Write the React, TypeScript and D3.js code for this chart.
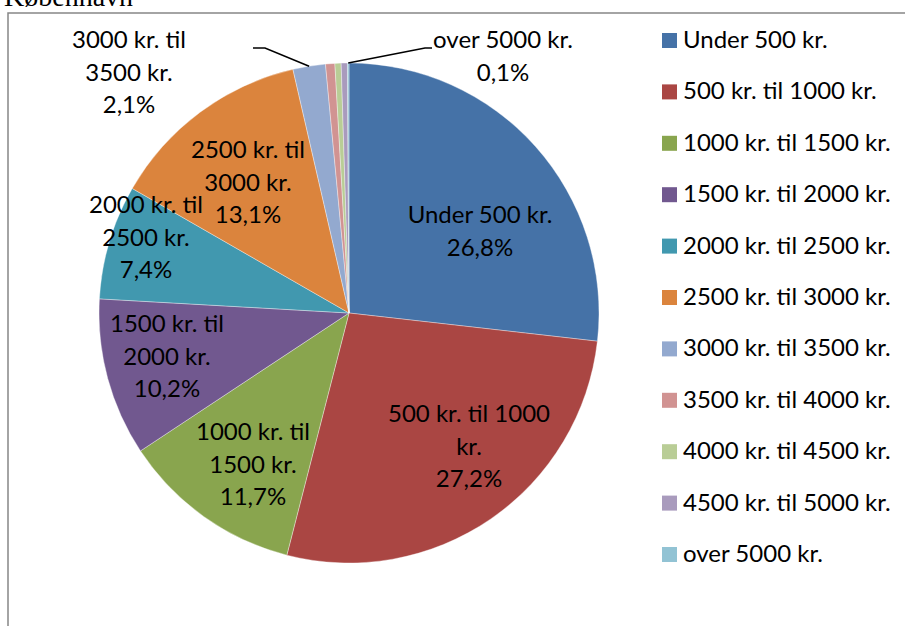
import React from 'react';
import * as d3 from 'd3';

// Categories and shares (%)
const categories = [
  'Under 500 kr.',
  '500 kr. til 1000 kr.',
  '1000 kr. til 1500 kr.',
  '1500 kr. til 2000 kr.',
  '2000 kr. til 2500 kr.',
  '2500 kr. til 3000 kr.',
  '3000 kr. til 3500 kr.',
  '3500 kr. til 4000 kr.',
  '4000 kr. til 4500 kr.',
  '4500 kr. til 5000 kr.',
  'over 5000 kr.',
];
const shares = [26.8, 27.2, 11.7, 10.2, 7.4, 13.1, 2.1, 0.6, 0.4, 0.4, 0.1];
const colors = [
  '#4572A7', '#AA4643', '#89A54E', '#71588F', '#4198AF', '#DB843D',
  '#93A9CF', '#D19392', '#B9CD96', '#A99BBD', '#92C3D4',
];

const title = 'København';

// label layout (offsets from pie centre, first-line baseline), words on first line
const labelLayout: ({ dx: number; dy: number; brk: number; leader?: [number, number] } | null)[] = [
  { dx: 131, dy: -90, brk: 3 },
  { dx: 120, dy: 109, brk: 4 },
  { dx: -96, dy: 127, brk: 3 },
  { dx: -182, dy: 19, brk: 3 },
  { dx: -203, dy: -100, brk: 3 },
  { dx: -101, dy: -155, brk: 3 },
  { dx: -220, dy: -265, brk: 3, leader: [-84, -96] },
  null,
  null,
  null,
  { dx: 154, dy: -265, brk: 3, leader: [76, 83] },
];

const W = 905;
const H = 626;
const cx = 349;
const cy = 313;
const R = 250;
const lineH = 32.5;
const font = 'Lato, "Open Sans", sans-serif';
const fs = 24;

const fmt = (v: number) => v.toFixed(1).replace('.', ',') + '%';

export default function App() {
  const pie = d3.pie<number>().sort(null).value(d => d);
  const arcs = pie(shares);
  const arc = d3.arc<d3.PieArcDatum<number>>().innerRadius(0).outerRadius(R);

  return (
    <svg width={W} height={H} style={{ position: 'absolute', left: 0, top: 0, background: '#fff' }}>
      <text x={4} y={6} fontFamily='"Liberation Serif", serif' fontSize={28} fill="#000">{title}</text>
      <rect x={8} y={13} width={W + 20} height={H + 20} fill="none" stroke="#868686" strokeWidth={1.5} />

      <g transform={`translate(${cx},${cy})`}>
        {arcs.map((a, i) => (
          <path key={i} d={arc(a) || ''} fill={colors[i]} stroke="#fff" strokeWidth={0.6} strokeOpacity={0.6} />
        ))}

        {arcs.map((a, i) => {
          const lay = labelLayout[i];
          if (!lay) return null;
          const words = categories[i].split(' ');
          const lines = [words.slice(0, lay.brk).join(' '), words.slice(lay.brk).join(' '), fmt(shares[i])].filter(s => s);
          let leader = null;
          if (lay.leader) {
            const mid = (a.startAngle + a.endAngle) / 2;
            const px = R * Math.sin(mid);
            const py = -R * Math.cos(mid);
            const ly = lay.dy;
            leader = (
              <polyline points={`${px},${py} ${lay.leader[0]},${ly} ${lay.leader[1]},${ly}`}
                fill="none" stroke="#000" strokeWidth={1.5} />
            );
          }
          return (
            <g key={'l' + i}>
              {leader}
              {lines.map((t, j) => (
                <text key={j} x={lay.dx} y={lay.dy + j * lineH} textAnchor="middle"
                  fontFamily={font} fontSize={fs} fill="#000">{t}</text>
              ))}
            </g>
          );
        })}
      </g>

      <g transform="translate(662,33)">
        {categories.map((c, i) => (
          <g key={c} transform={`translate(0,${i * 51.4})`}>
            <rect width={15} height={15} fill={colors[i]} />
            <text x={21} y={15} fontFamily={font} fontSize={fs} fill="#000">{c}</text>
          </g>
        ))}
      </g>
    </svg>
  );
}
